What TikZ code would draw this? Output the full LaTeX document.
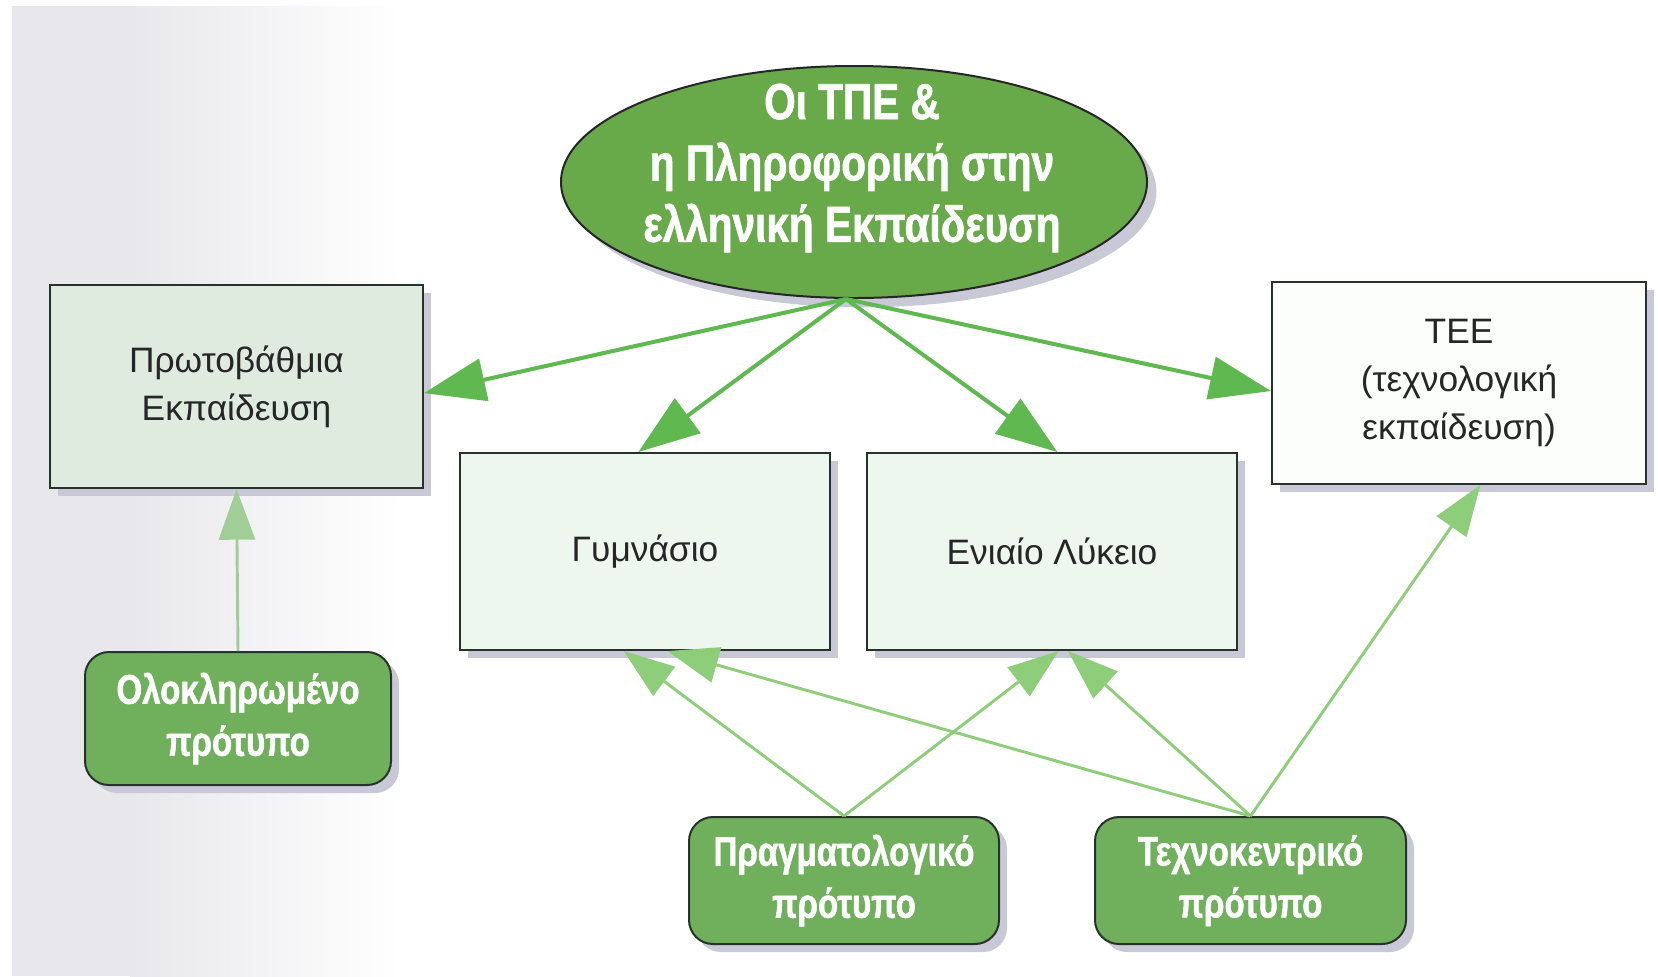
\documentclass[tikz,border=0pt]{standalone}
\usepackage{fontspec}
\setmainfont{Liberation Sans}
\newfontfamily\condb[FakeStretch=0.8, BoldFeatures={FakeBold=1.2}]{Liberation Sans}
\usetikzlibrary{arrows.meta,shapes.geometric,shadows}
\definecolor{ellg}{RGB}{104,170,74}
\definecolor{boxg}{RGB}{112,176,92}
\definecolor{paleg}{RGB}{238,247,238}
\definecolor{protg}{RGB}{224,235,224}
\definecolor{teew}{RGB}{252,254,252}
\definecolor{arrg}{RGB}{96,184,80}
\definecolor{arrl}{RGB}{142,206,122}
\definecolor{arrp}{RGB}{160,206,150}
\definecolor{shad}{RGB}{200,200,214}
\definecolor{edge}{RGB}{40,50,45}
\definecolor{pagegray}{RGB}{232,232,236}
\begin{document}
\begin{tikzpicture}[x=0.75pt,y=-0.75pt,
  pale/.style={draw=edge, line width=1.5pt, fill=paleg, align=center, inner sep=0pt,
    font=\fontsize{26.5}{36}\selectfont, text=black!85,
    drop shadow={shadow xshift=6pt, shadow yshift=-6pt, fill=shad, opacity=1}},
  model/.style={draw=edge, line width=1.5pt, fill=boxg, rounded corners=18pt, align=center,
    inner sep=0pt, text=white, font=\condb\bfseries\fontsize{31}{39}\selectfont,
    drop shadow={shadow xshift=6pt, shadow yshift=-6pt, fill=shad, opacity=1}},
  toparrow/.style={draw=arrg, line width=3pt, -{Triangle[length=46pt,width=32pt]}},
  botarrow/.style={draw=arrl, line width=2.2pt, -{Triangle[length=38pt,width=27pt]}},
]
\useasboundingbox (0,0) rectangle (1658,976);
\fill[white] (0,0) rectangle (1658,976);
\fill[pagegray] (12,6) rectangle (130,976);
\shade[left color=pagegray, right color=white] (130,6) rectangle (400,976);

% central ellipse
\node[ellipse, draw=black!85, line width=1.5pt, fill=ellg, minimum width=439.5pt, minimum height=174pt,
  inner sep=0pt, drop shadow={shadow xshift=7pt, shadow yshift=-7pt, fill=shad, opacity=1}]
  (main) at (854,182) {};
\node[align=center, text=white, inner sep=0pt, font=\condb\bfseries\fontsize{38}{46}\selectfont]
  (maintext) at (852,168) {Οι ΤΠΕ \&\\η Πληροφορική στην\\ελληνική Εκπαίδευση};

% level boxes
\node[pale, fill=protg, minimum width=279.75pt, minimum height=152.25pt] (prot) at (236.5,386.5) {Πρωτοβάθμια\\Εκπαίδευση};
\node[pale, minimum width=277.5pt, minimum height=147.75pt] (gym) at (645,551.5) {Γυμνάσιο};
\node[pale, minimum width=277.5pt, minimum height=147.75pt] (lyk) at (1052,551.5) {Ενιαίο Λύκειο};
\node[pale, fill=teew, minimum width=280.5pt, minimum height=151.5pt] (tee) at (1459,383) {ΤΕΕ\\(τεχνολογική\\εκπαίδευση)};

% model boxes
\node[model, minimum width=229.5pt, minimum height=99.75pt] (olo) at (238,718.5) {Ολοκληρωμένο\\πρότυπο};
\node[model, minimum width=232.5pt, minimum height=95.25pt] (prag) at (844,880.5) {Πραγματολογικό\\πρότυπο};
\node[model, minimum width=233.25pt, minimum height=95.25pt] (tech) at (1250.5,880.5) {Τεχνοκεντρικό\\πρότυπο};

% arrows from the ellipse
\draw[toparrow] ([xshift=-6pt]main.south) -- ([yshift=-5pt]prot.east);
\draw[toparrow] ([xshift=-6pt]main.south) -- ([xshift=-5pt]gym.north);
\draw[toparrow] ([xshift=-6pt]main.south) -- ([xshift=4pt]lyk.north);
\draw[toparrow] ([xshift=-6pt]main.south) -- ([yshift=-6pt]tee.west);

% arrows from the models
\draw[botarrow, draw=arrp] (olo.north) -- (prot.south);
\draw[botarrow] (prag.north) -- ([xshift=-16pt]gym.south);
\draw[botarrow] (prag.north) -- ([xshift=5pt]lyk.south);
\draw[botarrow] (tech.north) -- ([xshift=17pt]gym.south);
\draw[botarrow] (tech.north) -- ([xshift=12pt]lyk.south);
\draw[botarrow] (tech.north) -- ([xshift=16pt]tee.south);
\end{tikzpicture}
\end{document}
